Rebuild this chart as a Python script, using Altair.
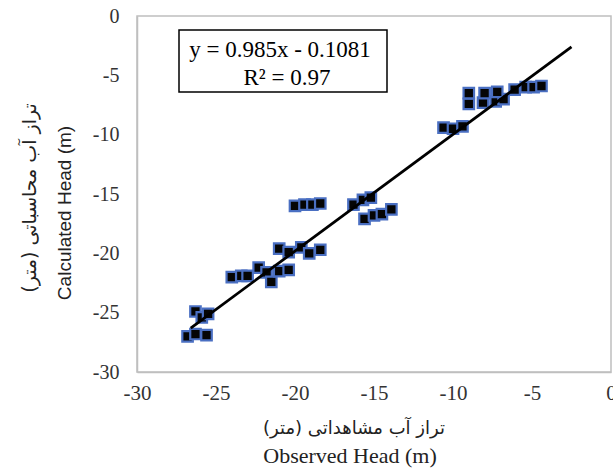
import altair as alt
import pandas as pd

# Observed vs calculated heads (m)
observed = [
    -26.8, -26.3, -25.6,
    -26.3, -25.9, -25.5,
    -24.0, -23.4, -23.0, -22.3, -21.8, -21.5, -21.0, -20.4,
    -21.0, -20.4, -19.6, -19.1, -18.4,
    -20.0, -19.4, -18.9, -18.4,
    -16.3, -15.7, -15.2, -15.6, -15.0, -14.5, -13.9,
    -10.6, -10.0, -9.4,
    -9.0, -8.1, -7.3, -6.8,
    -9.0, -8.0, -7.2, -6.1, -5.4, -4.9, -4.4,
]
calculated = [
    -27.0, -26.8, -26.9,
    -24.9, -25.4, -25.1,
    -22.0, -21.9, -21.9, -21.2, -21.6, -22.4, -21.5, -21.4,
    -19.6, -19.9, -19.5, -20.0, -19.7,
    -16.0, -15.9, -15.9, -15.8,
    -15.9, -15.5, -15.3, -17.1, -16.8, -16.7, -16.3,
    -9.4, -9.5, -9.3,
    -7.4, -7.3, -7.2, -7.0,
    -6.5, -6.5, -6.4, -6.2, -6.0, -6.0, -5.9,
]
trend_x = [-26.6, -2.5]
trend_y = [-26.3, -2.6]
axis_ticks = [-30, -25, -20, -15, -10, -5, 0]
eq_lines = ["y = 0.985x - 0.1081", "R² = 0.97"]
x_title = ["تراز آب مشاهداتی (متر)", "Observed Head (m)"]
y_title = ["تراز آب محاسباتی (متر)", "Calculated Head (m)"]

pts = pd.DataFrame({"obs": observed, "calc": calculated})
trend = pd.DataFrame({"obs": trend_x, "calc": trend_y})
one = pd.DataFrame({"a": [0]})

xscale = alt.Scale(domain=[-30, 0], nice=False, zero=False)
yscale = alt.Scale(domain=[-30, 0], nice=False, zero=False)

label_expr = "'' + datum.value"

xaxis = alt.Axis(values=axis_ticks, title=None, grid=False, ticks=False,
                 domainColor="#bfbfbf", domainWidth=1.5,
                 labelFont="Liberation Serif", labelFontSize=21,
                 labelColor="#333333", labelPadding=10, labelExpr=label_expr,
                 labelFlush=False, labelOverlap=False)
yaxis = alt.Axis(values=axis_ticks, title=None, grid=False, ticks=False,
                 domainColor="#bfbfbf", domainWidth=1.5,
                 labelFont="Liberation Serif", labelFontSize=20,
                 labelColor="#333333", labelPadding=18, labelExpr=label_expr,
                 labelFlush=False, labelOverlap=False)

points = alt.Chart(pts).mark_square(
    size=110, filled=True, fill="#050505", stroke="#4a6fc2",
    strokeWidth=2.2, opacity=1
).encode(
    x=alt.X("obs:Q", scale=xscale, axis=xaxis),
    y=alt.Y("calc:Q", scale=yscale, axis=yaxis),
)

line = alt.Chart(trend).mark_line(color="black", strokeWidth=2.8).encode(
    x=alt.X("obs:Q", scale=xscale),
    y=alt.Y("calc:Q", scale=yscale),
)

box = alt.Chart(one).mark_rect(fill="white", stroke="black", strokeWidth=1.5).encode(
    x=alt.value(42), x2=alt.value(250), y=alt.value(14), y2=alt.value(76)
)
eq1 = alt.Chart(one).mark_text(text=eq_lines[0], font="Liberation Serif",
                               fontSize=23, color="black").encode(
    x=alt.value(143), y=alt.value(34))
eq2 = alt.Chart(one).mark_text(text=eq_lines[1], font="Liberation Serif",
                               fontSize=23, color="black").encode(
    x=alt.value(150), y=alt.value(62))

xt1 = alt.Chart(one).mark_text(text=x_title[0], font="DejaVu Sans",
                               fontSize=18, color="#222222").encode(
    x=alt.value(217), y=alt.value(413))
xt2 = alt.Chart(one).mark_text(text=x_title[1], font="Liberation Serif",
                               fontSize=22, color="#222222").encode(
    x=alt.value(213), y=alt.value(440))
yt1 = alt.Chart(one).mark_text(text=y_title[0], font="DejaVu Sans",
                               fontSize=19, color="#222222", angle=270).encode(
    x=alt.value(-107), y=alt.value(182))
yt2 = alt.Chart(one).mark_text(text=y_title[1], font="Liberation Sans",
                               fontSize=19, color="#222222", angle=270).encode(
    x=alt.value(-72), y=alt.value(197))

chart = alt.layer(points, line, box, eq1, eq2, xt1, xt2, yt1, yt2).properties(
    width=474, height=356,
    autosize=alt.AutoSizeParams(type="none"),
    padding={"left": 137, "top": 16, "right": 2, "bottom": 103},
    background="white",
).configure(font="Liberation Serif").configure_view(
    stroke="#bfbfbf", strokeWidth=1.5
).configure_axis(labelFont="Liberation Serif")

chart.save("out.html", embed_options={"renderer": "svg", "actions": False})
